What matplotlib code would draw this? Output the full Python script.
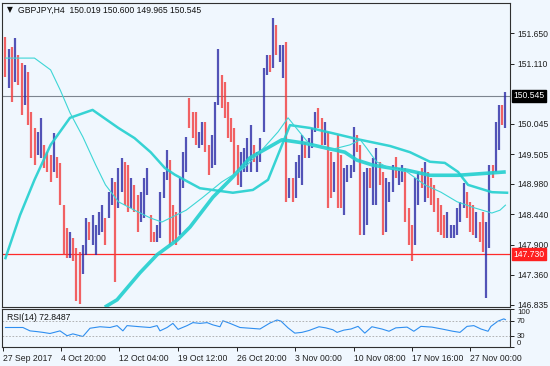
import matplotlib
matplotlib.use("Agg")
import matplotlib.pyplot as plt
import matplotlib.transforms as mtransforms
import numpy as np

# ---------------- data ----------------
highs = [151.58,151.38,151.40,151.56,151.26,151.12,151.08,150.96,150.25,149.97,
         149.90,150.15,149.67,149.54,149.49,149.88,149.46,149.35,148.61,148.20,
         148.13,148.02,147.84,147.77,147.90,148.38,148.30,148.43,148.25,148.48,
         148.61,148.38,148.84,149.08,149.01,149.26,149.44,149.37,149.31,149.08,
         148.96,148.78,148.84,149.08,149.26,148.43,148.13,148.25,148.84,149.19,
         149.58,149.40,148.61,148.48,149.08,149.54,149.81,150.50,150.25,150.25,
         149.90,150.07,150.07,149.67,149.85,150.43,151.38,150.91,150.78,150.43,
         150.15,149.97,149.67,149.54,149.61,149.79,150.02,149.67,149.54,149.79,
         151.03,151.26,151.26,151.92,151.79,151.44,151.44,151.49,149.08,149.08,
         149.37,149.49,149.85,149.72,149.79,149.97,150.25,150.32,150.15,150.07,
         149.90,149.54,149.37,149.85,149.49,149.26,149.31,149.31,149.99,149.85,
         149.67,149.19,149.26,149.26,149.44,149.61,149.37,149.19,149.08,149.01,
         149.31,149.46,149.26,149.31,149.26,148.55,148.25,149.08,149.19,149.26,
         149.37,149.19,149.08,148.96,148.73,148.61,148.43,148.48,148.25,148.25,
         148.55,148.66,148.99,148.84,148.66,148.61,148.48,148.30,148.48,148.30,
         149.31,149.31,150.07,150.38,150.38,150.60]
lows = [150.87,150.68,150.43,150.78,150.73,150.20,150.38,150.02,149.44,149.31,
        149.49,149.44,149.26,149.19,149.01,149.19,149.08,148.61,147.72,147.67,
        147.67,147.60,146.89,146.84,147.37,147.72,147.99,147.90,147.72,148.07,
        148.13,147.90,148.38,148.61,147.24,148.55,148.84,148.61,148.48,148.55,
        148.48,148.13,148.30,148.38,148.78,147.95,147.95,147.95,148.02,148.73,
        149.05,147.90,147.95,147.90,148.07,148.91,149.19,149.97,149.79,149.67,
        149.61,149.67,149.54,149.14,149.26,149.31,150.38,150.32,150.15,149.79,
        149.72,149.14,148.96,148.93,149.19,149.19,149.19,149.37,149.19,149.37,
        149.90,150.91,150.96,151.03,151.26,151.14,150.85,148.66,148.73,148.66,
        148.73,149.08,148.96,149.44,149.44,149.61,149.90,149.97,149.67,149.67,
        148.55,148.73,148.84,148.55,148.55,148.43,149.01,149.08,149.19,149.54,
        148.07,148.07,148.25,148.91,148.61,148.61,148.96,148.07,148.13,148.66,
        148.84,149.08,148.96,149.01,148.30,147.90,147.60,147.90,148.61,148.91,
        148.66,148.73,148.61,148.48,148.13,148.07,148.02,148.02,148.02,148.02,
        148.07,148.30,148.55,148.38,148.13,148.07,148.02,147.95,147.76,146.96,
        147.84,149.08,149.19,149.58,150.02,149.965]
directions = ("dududduddd" "uudddudddd" "uddduuduuu" "uduuduuddu" "dduuudduuu"
              "uddduuuddd" "uudduuuddd" "ddduuuuduu" "uududuudud" "uuuduuuddu"
              "ddudduuuud" "duuduudduu" "uduuddduud" "udddddduuu" "uuuddduddu"
              "uduudu")

ma_fast_idx = [0,9,14,17,20,24,28,31,35,40,45,48.5,51,56,61,67,74,79.5,84.5,87.6,
               90.7,94.4,100.6,106.8,110,112,115,119,124.5,130,135,140,145.5,150.8,153.3,155]
ma_fast_val = [151.21,151.21,151.00,150.64,150.24,149.81,149.31,148.96,148.66,148.51,
               148.37,148.30,148.37,148.51,148.73,149.01,149.26,149.58,149.90,150.15,
               149.93,149.67,149.58,149.67,149.76,149.61,149.37,149.26,149.19,148.96,
               148.83,148.66,148.55,148.46,148.51,148.60]
ma_mid_idx = [0,4.5,9,14,20,27,35,40,45,49.4,52.5,60.3,70.5,76.7,81.4,88.2,94.4,101.2,
              110,119.2,125.4,131.6,136.2,140.3,143.4,150.8,155.5]
ma_mid_val = [147.66,148.42,149.05,149.67,150.15,150.29,149.97,149.79,149.54,149.26,
              149.14,148.90,148.82,148.87,149.05,150.02,149.97,149.88,149.76,149.65,
              149.54,149.37,149.35,149.19,148.96,148.83,148.82]
ma_slow_idx = [30.8,34.6,41.7,47.0,53.2,57.2,64.3,70.5,75.8,81.1,85.7,92.8,98.1,105.2,
               108.9,113.9,119.2,124.5,131.6,140.3,155.1]
ma_slow_val = [146.79,146.92,147.40,147.72,147.98,148.21,148.74,149.10,149.44,149.61,
               149.76,149.70,149.63,149.54,149.40,149.31,149.26,149.22,149.13,149.13,149.19]

rsi_idx = [0,2.3,5.4,7.6,9.8,11.6,13.8,16.9,19.1,20.9,24.0,26.2,29.3,32.4,34.6,36.4,37.7,
           41.7,44.8,47.0,47.9,50.1,51.9,53.5,56.3,58.1,60.3,62.5,64.3,66.5,67.4,69.6,
           72.7,75.8,78.9,82.0,84.2,85.4,87.6,89.7,91.9,94.1,97.2,99.3,101.5,102.8,104.9,
           107.1,109.3,111.4,113.6,116.7,118.9,121.0,124.5,126.6,128.8,132.2,135.3,138.7,
           140.9,143.1,145.2,147.4,149.6,150.5,152.7,154.5,155]
rsi_val = [52,52,52,43,41,39,36,43,30,35,28,50,54,52,57,43,57,54,52,57,43,52,63,47,57,
           65,63,65,59,54,70,63,52,50,48,64,72,69,51,37,39,44,54,51,46,39,45,48,55,37,
           54,48,42,51,53,42,55,53,48,42,39,55,57,48,42,55,69,75,72.85]

price_ticks = [151.650, 151.110, 150.045, 149.505, 148.980, 148.440, 147.900, 147.360, 146.835]
rsi_ticks = [100, 70, 30, 0]
date_tick_idx = [-0.87, 17.2, 35.3, 53.6, 71.7, 89.7, 107.9, 126.0, 144.1]
date_labels = ["27 Sep 2017", "4 Oct 20:00", "12 Oct 04:00", "19 Oct 12:00",
               "26 Oct 20:00", "3 Nov 00:00", "10 Nov 08:00", "17 Nov 16:00",
               "27 Nov 00:00"]
last_price = 150.545
support = 147.730
title = "GBPJPY,H4  150.019 150.600 149.965 150.545"
rsi_title = "RSI(14) 72.8487"

# ---------------- style ----------------
BG = "#F0F7FE"
UP = "#2A2AA6"
DN = "#F23C3C"
MA = "#22CFCF"
FONT = "Liberation Sans"
FS = 6.2
plt.rcParams["font.family"] = [FONT, "DejaVu Sans"]

fig = plt.figure(figsize=(5.5, 3.66), dpi=100, facecolor=BG)
ax = fig.add_axes([0.0045, 0.1612, 0.9227, 0.8314])
rx = fig.add_axes([0.0045, 0.0519, 0.9227, 0.1025])
for a in (ax, rx):
    a.set_facecolor(BG)
    for s in a.spines.values():
        s.set_color("#303030")
        s.set_linewidth(0.8)

n = len(highs)
assert len(lows) == n and len(directions) == n
idx = np.arange(n)
up = np.array([c == "u" for c in directions])
hi = np.array(highs)
lo = np.array(lows)
ax.vlines(idx[up], lo[up], hi[up], colors=UP, linewidth=1.6, alpha=0.8, zorder=3)
ax.vlines(idx[~up], lo[~up], hi[~up], colors=DN, linewidth=1.6, alpha=0.8, zorder=3)

ax.plot(ma_slow_idx, ma_slow_val, color=MA, lw=2.6, alpha=0.9, zorder=4, solid_capstyle="butt")
ax.plot(ma_mid_idx, ma_mid_val, color=MA, lw=1.8, alpha=0.9, zorder=4)
ax.plot(ma_fast_idx, ma_fast_val, color="#3DD6D6", lw=0.8, zorder=4)

ax.axhline(last_price, color="#7D8590", lw=0.8, zorder=2)
ax.axhline(support, color="#FF2A2A", lw=0.9, zorder=2)

ax.set_xlim(-0.93, 156.4)
ax.set_ylim(146.792, 152.193)
ax.set_xticks([])
ax.yaxis.tick_right()
ax.set_yticks(price_ticks)
ax.set_yticklabels([f"{v:.3f}" for v in price_ticks])
ax.tick_params(axis="y", direction="out", length=3, width=0.7, pad=2,
               labelsize=FS, colors="#202020")

tr = mtransforms.blended_transform_factory(ax.transAxes, ax.transData)
ax.text(1.0075, last_price, f"{last_price:.3f}", transform=tr, va="center", ha="left",
        fontsize=FS, color="white", clip_on=False, zorder=10,
        bbox=dict(boxstyle="square,pad=0.18", fc="black", ec="black"))
ax.text(1.0075, support, f"{support:.3f}", transform=tr, va="center", ha="left",
        fontsize=FS, color="white", clip_on=False, zorder=10,
        bbox=dict(boxstyle="square,pad=0.18", fc="#FF2020", ec="#FF2020"))

ax.text(0.009, 0.976, "\u25BC", transform=ax.transAxes, fontsize=5.5, va="center",
        ha="left", color="#101010", family="DejaVu Sans")
ax.text(0.031, 0.976, title, transform=ax.transAxes, fontsize=FS, va="center",
        ha="left", color="#101010")

# RSI panel
rx.plot(rsi_idx, rsi_val, color="#2E8EF0", lw=0.8)
rx.axhline(70, color="#A8A8A8", lw=0.6, ls=(0, (2, 2)))
rx.axhline(30, color="#A8A8A8", lw=0.6, ls=(0, (2, 2)))
rx.set_xlim(-0.93, 156.4)
rx.set_ylim(0, 100)
rx.yaxis.tick_right()
rx.set_yticks(rsi_ticks)
rx.set_yticklabels([str(v) for v in rsi_ticks])
rx.tick_params(axis="y", direction="out", length=3, width=0.7, pad=2,
               labelsize=5.6, colors="#202020")
ylabs = rx.get_yticklabels()
ylabs[0].set_verticalalignment("top")
ylabs[-1].set_verticalalignment("bottom")
rx.set_xticks(date_tick_idx)
rx.set_xticklabels(date_labels)
for lab in rx.get_xticklabels():
    lab.set_horizontalalignment("left")
rx.tick_params(axis="x", direction="out", length=3, width=0.7, pad=2,
               labelsize=FS, colors="#202020")
rx.text(0.008, 0.78, rsi_title, transform=rx.transAxes, fontsize=FS, va="center",
        ha="left", color="#101010")

fig.savefig("out.png", dpi=100, facecolor=BG)
